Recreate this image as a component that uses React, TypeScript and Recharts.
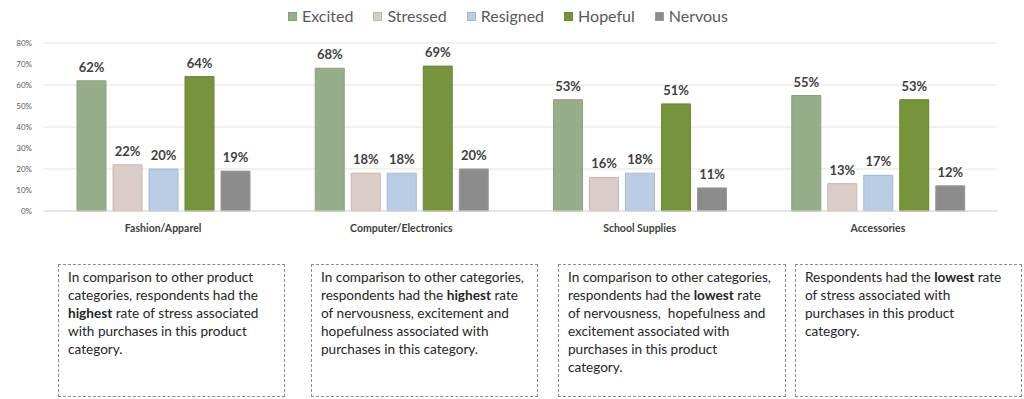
import React from 'react'
import { BarChart, Bar, XAxis, YAxis, CartesianGrid, LabelList } from 'recharts'

// Share of respondents reporting each feeling, per product category (percent)
const CATEGORIES = ['Fashion/Apparel', 'Computer/Electronics', 'School Supplies', 'Accessories']
const EXCITED = [62, 68, 53, 55]
const STRESSED = [22, 18, 16, 13]
const RESIGNED = [20, 18, 18, 17]
const HOPEFUL = [64, 69, 51, 53]
const NERVOUS = [19, 20, 11, 12]
const Y_TICKS = [0, 10, 20, 30, 40, 50, 60, 70, 80]

const SERIES = [
  { key: 'excited', name: 'Excited', fill: '#97ae8a', stroke: '#8aa17d' },
  { key: 'stressed', name: 'Stressed', fill: '#dacdc8', stroke: '#c2b6b2' },
  { key: 'resigned', name: 'Resigned', fill: '#b9cde5', stroke: '#a5b7cd' },
  { key: 'hopeful', name: 'Hopeful', fill: '#77933c', stroke: '#6b8636' },
  { key: 'nervous', name: 'Nervous', fill: '#8c8c8c', stroke: '#9a9a9a' },
]

const NOTES: React.ReactNode[] = [
  <>
    In comparison to other product<br />categories, respondents had the<br />
    <b>highest</b> rate of stress associated<br />with purchases in this product<br />category.
  </>,
  <>
    In comparison to other categories,<br />respondents had the <b>highest</b> rate<br />
    of nervousness, excitement and<br />hopefulness associated with<br />purchases in this category.
  </>,
  <>
    In comparison to other categories,<br />respondents had the <b>lowest</b> rate<br />
    of nervousness,&nbsp; hopefulness and<br />excitement associated with<br />purchases in this product<br />category.
  </>,
  <>
    Respondents had the <b>lowest</b> rate<br />of stress associated with<br />purchases in this product<br />category.
  </>,
]
const NOTE_LEFT = [58, 311, 558, 795]
const NOTE_RIGHT = [285, 538, 786, 1022]

const data = CATEGORIES.map((c, i) => ({
  name: c,
  excited: EXCITED[i],
  stressed: STRESSED[i],
  resigned: RESIGNED[i],
  hopeful: HOPEFUL[i],
  nervous: NERVOUS[i],
}))

const FONT = 'Lato, "Open Sans", sans-serif'

export default function App() {
  return (
    <div style={{ position: 'absolute', left: 0, top: 0, width: 1024, height: 399, background: '#fff', fontFamily: FONT }}>
      {/* legend drawn as html so it doesn't eat into the plot margin */}
      <div
        style={{
          position: 'absolute',
          top: 6,
          left: 288,
          display: 'flex',
          gap: 20,
          fontSize: 16,
          lineHeight: '20px',
          color: '#595959',
        }}
      >
        {SERIES.map((s) => (
          <div key={s.key} style={{ display: 'flex', alignItems: 'center' }}>
            <span style={{ width: 9, height: 9, background: s.fill, border: `1px solid ${s.stroke}`, marginRight: 5, boxSizing: 'border-box' }} />
            {s.name}
          </div>
        ))}
      </div>
      <BarChart
        width={1024}
        height={240}
        data={data}
        margin={{ top: 43, right: 27, left: 0, bottom: 9 }}
        barSize={29}
        barGap={7}
      >
        <CartesianGrid vertical={false} stroke="#e3e3e3" />
        <XAxis
          dataKey="name"
          axisLine={{ stroke: '#d9d9d9' }}
          tickLine={false}
          height={20}
          tick={{ fill: '#404040', fontSize: 10.5, fontWeight: 700, fontFamily: FONT }}
          tickMargin={8}
          interval={0}
        />
        <YAxis
          width={44}
          domain={[0, 80]}
          ticks={Y_TICKS}
          axisLine={false}
          tickLine={false}
          tickFormatter={(v) => `${v}%`}
          tick={{ fill: '#595959', fontSize: 8, fontFamily: FONT }}
          tickMargin={6}
        />
        {SERIES.map((s) => (
          <Bar key={s.key} dataKey={s.key} name={s.name} fill={s.fill} stroke={s.stroke} isAnimationActive={false}>
            <LabelList
              dataKey={s.key}
              position="top"
              offset={9}
              formatter={(v) => `${v}%`}
              style={{ fill: '#404040', fontSize: 13, fontWeight: 700, fontFamily: FONT }}
            />
          </Bar>
        ))}
      </BarChart>
      {NOTES.map((n, i) => (
        <div
          key={i}
          style={{
            position: 'absolute',
            left: NOTE_LEFT[i],
            top: 264,
            width: NOTE_RIGHT[i] - NOTE_LEFT[i],
            height: 133,
            boxSizing: 'border-box',
            border: '1px dashed #8c8c8c',
            padding: '3px 8px 0 9px',
            fontSize: 13.6,
            lineHeight: '18px',
            color: '#262626',
            whiteSpace: 'nowrap',
          }}
        >
          {n}
        </div>
      ))}
    </div>
  )
}
